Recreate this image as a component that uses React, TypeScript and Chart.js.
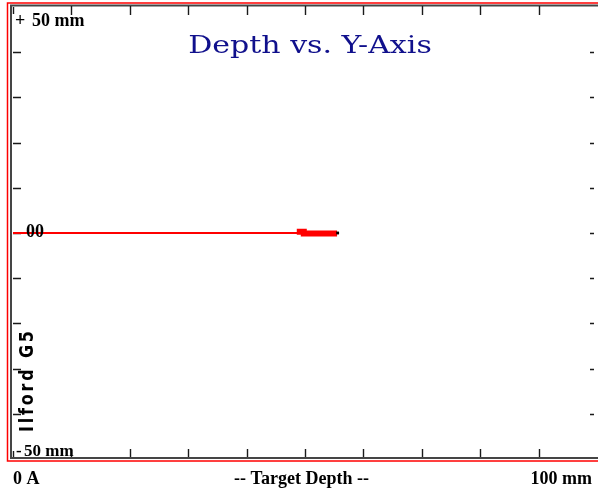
import { useEffect, useRef } from 'react';
import { Chart, registerables } from 'chart.js';

Chart.register(...registerables);

// ---- data ----
const depthTicks = [0, 10, 20, 30, 40, 50, 60, 70, 80, 90];
const offsetTicks = [-40, -30, -20, -10, 0, 10, 20, 30, 40];
const baseDepths = [0, 55.6];
const baseOffsets = [0, 0];
const beamDepths = [48.6, 49.8, 49.8, 55.5];
const beamOffsets = [0.3, 0.3, -0.1, -0.1];
const endDepths = [55.6];
const endOffsets = [0];

// ---- text ----
const titleText = 'Depth vs. Y-Axis';
const topSign = '+';
const bottomSign = '-';
const limitLabel = '50 mm';
const zeroLabel = '00';
const xStartLabel = '0 A';
const xTitle = '-- Target Depth --';
const xEndLabel = '100 mm';
const sideLabel = 'Ilford G5';

const toPoints = (xs: number[], ys: number[]) => xs.map((x, i) => ({ x, y: ys[i] }));

const framePlugin = {
  id: 'framePlugin',
  beforeDraw(chart: any) {
    const { ctx, width, height } = chart;
    ctx.save();
    ctx.fillStyle = '#ffffff';
    ctx.fillRect(0, 0, width, height);
    ctx.restore();
  },
  beforeDatasetsDraw(chart: any) {
    const { ctx, chartArea, scales } = chart;
    const xs = scales.x;
    const ys = scales.y;
    ctx.save();
    // red outer frame
    ctx.strokeStyle = '#ff0000';
    ctx.lineWidth = 1.5;
    ctx.strokeRect(7.5, 3, 800, 458);
    // gray inner frame
    ctx.strokeStyle = '#454545';
    ctx.lineWidth = 2;
    ctx.beginPath();
    ctx.moveTo(900, 5.5);
    ctx.lineTo(11, 5.5);
    ctx.lineTo(11, 458);
    ctx.lineTo(900, 458);
    ctx.stroke();
    // ticks
    ctx.strokeStyle = '#1a1a1a';
    ctx.lineWidth = 1.4;
    ctx.beginPath();
    depthTicks.forEach((v) => {
      const x = Math.round(xs.getPixelForValue(v)) + 0.5;
      const short = v === 0;
      ctx.moveTo(x, short ? 7 : 6);
      ctx.lineTo(x, short ? 14 : 15);
      ctx.moveTo(x, short ? 451 : 449);
      ctx.lineTo(x, 457);
    });
    offsetTicks.forEach((v) => {
      const y = Math.round(ys.getPixelForValue(v)) + 0.5;
      ctx.moveTo(13, y);
      ctx.lineTo(21, y);
      ctx.moveTo(590, y);
      ctx.lineTo(chartArea.right, y);
    });
    ctx.stroke();
    ctx.restore();
  },
  afterDatasetsDraw(chart: any) {
    const { ctx, scales } = chart;
    const ys = scales.y;
    ctx.save();
    ctx.fillStyle = '#000000';
    ctx.textBaseline = 'alphabetic';
    ctx.textAlign = 'left';
    // y limits
    ctx.font = 'bold 18px "Liberation Serif"';
    ctx.fillText(topSign, 15, 26);
    ctx.fillText(limitLabel, 32, 26);
    ctx.font = 'bold 17px "Liberation Serif"';
    ctx.fillText(bottomSign, 16, 456);
    ctx.fillText(limitLabel, 24, 456);
    // x labels
    ctx.font = 'bold 18px "Liberation Serif"';
    ctx.fillText(xStartLabel, 13, 484);
    ctx.textAlign = 'center';
    ctx.fillText(xTitle, 301.5, 484);
    ctx.textAlign = 'right';
    ctx.fillText(xEndLabel, 592, 484);
    // zero label
    ctx.textAlign = 'left';
    ctx.font = 'bold 18px "Liberation Serif"';
    ctx.fillText(zeroLabel, 26, ys.getPixelForValue(0) + 3.5);
    // title
    ctx.save();
    ctx.fillStyle = '#10108c';
    ctx.font = '25px "DejaVu Serif"';
    ctx.textAlign = 'center';
    ctx.translate(310, 53);
    ctx.scale(1.2, 1);
    ctx.fillText(titleText, 0, 0);
    ctx.restore();
    // side label
    ctx.fillStyle = '#000000';
    ctx.translate(33, 432);
    ctx.rotate(-Math.PI / 2);
    ctx.scale(1, 1.2);
    ctx.font = 'bold 16px "DejaVu Sans"';
    ctx.textAlign = 'left';
    (ctx as any).letterSpacing = '2.8px';
    ctx.fillText(sideLabel, 0, 0);
    ctx.restore();
  },
};

export default function App() {
  const ref = useRef<HTMLCanvasElement | null>(null);
  useEffect(() => {
    if (!ref.current) return;
    const chart = new Chart(ref.current, {
      type: 'scatter',
      data: {
        datasets: [
          {
            data: toPoints(baseDepths, baseOffsets),
            showLine: true,
            borderColor: '#ff0000',
            borderWidth: 2,
            pointRadius: 0,
            borderCapStyle: 'butt',
            order: 2,
          },
          {
            data: toPoints(beamDepths, beamOffsets),
            showLine: true,
            borderColor: '#ff0000',
            borderWidth: 6,
            pointRadius: 0,
            borderCapStyle: 'butt',
            borderJoinStyle: 'miter',
            order: 1,
          },
          {
            data: toPoints(endDepths, endOffsets),
            showLine: false,
            pointStyle: 'rect',
            pointRadius: 2,
            backgroundColor: '#000000',
            borderColor: '#000000',
            borderWidth: 0,
            order: 0,
          },
        ],
      } as any,
      options: {
        animation: false,
        responsive: false,
        layout: { padding: { left: 13, top: 7, right: 0, bottom: 34 } },
        scales: {
          x: { type: 'linear', min: 0, max: 99.5, display: false },
          y: { type: 'linear', min: -50, max: 50, display: false },
        },
        plugins: {
          legend: { display: false },
          tooltip: { enabled: false },
          title: { display: false },
        },
      } as any,
      plugins: [framePlugin],
    });
    return () => chart.destroy();
  }, []);
  return (
    <div style={{ position: 'fixed', left: 0, top: 0, width: 598, height: 493, background: '#fff' }}>
      <canvas ref={ref} width={598} height={493} style={{ width: 598, height: 493, display: 'block' }} />
    </div>
  );
}
